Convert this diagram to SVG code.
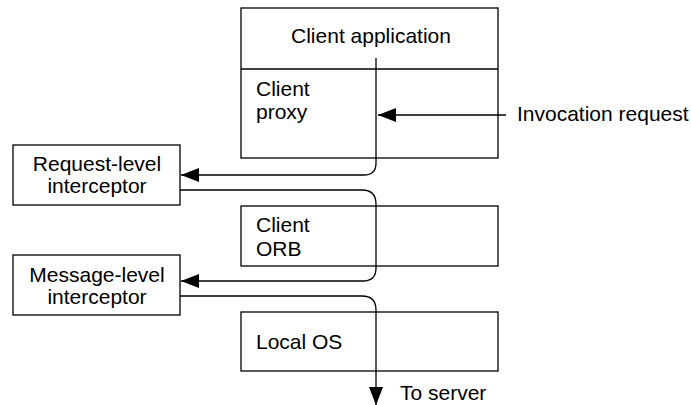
<svg xmlns="http://www.w3.org/2000/svg" width="691" height="405" viewBox="0 0 691 405">
  <defs>
    <marker id="arrow" viewBox="0 0 18 14" refX="18" refY="7" markerWidth="18" markerHeight="14" markerUnits="userSpaceOnUse" orient="auto">
      <path d="M0,0 L18,7 L0,14 Z" fill="#000"/>
    </marker>
    <style>
      .box { fill: #fff; stroke: #000; stroke-width: 1.3; }
      .lbl { font-family: "Liberation Sans", Arial, sans-serif; font-size: 21px; fill: #000; }
      .mid { text-anchor: middle; }
      .flow { fill: none; stroke: #000; stroke-width: 1.3; }
    </style>
  </defs>
  <rect width="691" height="405" fill="#fff"/>

  <g id="client-application">
    <rect class="box" x="241" y="8" width="257" height="150"/>
    <line class="flow" x1="241" y1="69" x2="498" y2="69"/>
    <text class="lbl mid" x="371" y="43">Client application</text>
  </g>
  <g id="client-proxy">
    <text class="lbl" x="256" y="96">Client</text>
    <text class="lbl" x="256" y="119">proxy</text>
  </g>

  <g id="client-orb">
    <rect class="box" x="241" y="206" width="257" height="60"/>
    <text class="lbl" x="256" y="232">Client</text>
    <text class="lbl" x="256" y="256">ORB</text>
  </g>

  <g id="local-os">
    <rect class="box" x="241" y="312" width="257" height="59"/>
    <text class="lbl" x="256" y="349">Local OS</text>
  </g>

  <g id="request-level-interceptor">
    <rect class="box" x="13" y="145" width="167" height="60"/>
    <text class="lbl mid" x="97" y="171">Request-level</text>
    <text class="lbl mid" x="97" y="193">interceptor</text>
  </g>

  <g id="message-level-interceptor">
    <rect class="box" x="13" y="255" width="167" height="60"/>
    <text class="lbl mid" x="97" y="282">Message-level</text>
    <text class="lbl mid" x="97" y="304">interceptor</text>
  </g>

  <g id="invocation-request">
    <text class="lbl" x="517" y="121">Invocation request</text>
  </g>
  <g id="to-server">
    <text class="lbl" x="400" y="400">To server</text>
  </g>

  <g id="connectors">
    <line class="flow" x1="506" y1="115" x2="378" y2="115" marker-end="url(#arrow)"/>
    <path class="flow" d="M376,58 V163 Q376,175 364,175 H181" marker-end="url(#arrow)"/>
    <path class="flow" d="M180,190 H362 Q376,190 376,204 V268 Q376,281 363,281 H181" marker-end="url(#arrow)"/>
    <path class="flow" d="M180,296 H362 Q376,296 376,310 V405" marker-end="url(#arrow)"/>
  </g>
</svg>
